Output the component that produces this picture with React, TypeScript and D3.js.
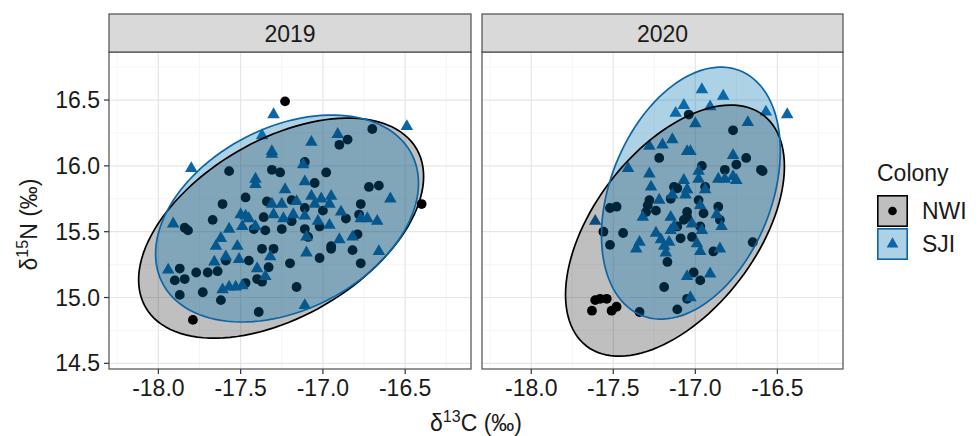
import React, { useEffect } from "react";
import * as d3 from "d3";

// ---------- data (δ13C, δ15N) ----------
const years = ["2019", "2020"];
const colonies = ["NWI", "SJI"];

const nwi2019: [number, number][] = [
  [-17.23, 16.49], [-17.57, 15.96], [-17.31, 15.97], [-17.26, 15.95], [-17.47, 15.76], [-17.61, 15.71],
  [-17.34, 15.73], [-17.19, 15.74], [-17.67, 15.59], [-17.84, 15.53], [-17.82, 15.51], [-17.36, 15.61],
  [-17.42, 15.52], [-17.35, 15.51], [-17.25, 15.52], [-17.37, 15.37], [-17.3, 15.37], [-17.45, 15.28],
  [-17.2, 15.26], [-17.33, 15.23], [-17.87, 15.22], [-17.9, 15.13], [-17.84, 15.14], [-17.77, 15.19],
  [-17.7, 15.19], [-17.64, 15.2], [-17.59, 15.28], [-17.4, 15.14], [-17.37, 15.12], [-17.47, 15.11],
  [-17.87, 15.02], [-17.73, 15.04], [-17.62, 14.98], [-17.39, 14.89], [-17.79, 14.83], [-17.16, 15.08],
  [-16.7, 16.28], [-16.9, 16.16], [-16.85, 16.2], [-17.11, 16.03], [-16.98, 15.95], [-17.05, 15.87],
  [-16.72, 15.84], [-16.66, 15.85], [-16.77, 15.71], [-16.4, 15.71], [-17.11, 15.68], [-17.0, 15.66],
  [-16.86, 15.6], [-16.78, 15.63], [-17.02, 15.54], [-17.19, 15.58], [-17.11, 15.52], [-17.09, 15.46],
  [-16.79, 15.48], [-16.95, 15.39], [-16.95, 15.37], [-16.82, 15.36], [-17.02, 15.3], [-16.77, 15.26],
];

const sji2019: [number, number][] = [
  [-17.3, 16.39], [-17.37, 16.23], [-17.8, 15.98], [-17.31, 16.09], [-17.31, 16.11], [-17.41, 15.9],
  [-17.41, 15.86], [-17.23, 15.82], [-17.31, 15.71], [-17.25, 15.71], [-17.47, 15.62], [-17.45, 15.6],
  [-17.5, 15.63], [-17.3, 15.63], [-17.24, 15.6], [-17.18, 15.63], [-17.41, 15.54], [-17.49, 15.54],
  [-17.91, 15.56], [-17.57, 15.52], [-17.62, 15.45], [-17.65, 15.39], [-17.52, 15.39], [-17.59, 15.31],
  [-17.51, 15.29], [-17.66, 15.27], [-17.32, 15.31], [-17.4, 15.22], [-17.35, 15.16], [-17.94, 15.21],
  [-17.57, 15.08], [-17.53, 15.08], [-17.49, 15.09], [-17.61, 15.06], [-16.49, 16.3], [-16.91, 16.24],
  [-17.07, 16.18], [-17.12, 16.01], [-17.11, 15.88], [-16.59, 15.75], [-17.07, 15.77], [-17.01, 15.75],
  [-16.95, 15.77], [-17.16, 15.73], [-17.05, 15.71], [-16.96, 15.71], [-16.89, 15.65], [-16.77, 15.6],
  [-16.73, 15.6], [-16.67, 15.58], [-17.11, 15.62], [-17.03, 15.58], [-16.96, 15.55], [-17.1, 15.46],
  [-16.9, 15.44], [-16.82, 15.46], [-17.1, 15.34], [-16.66, 15.35], [-17.11, 14.94],
];

const nwi2020: [number, number][] = [
  [-17.04, 16.39], [-17.22, 16.06], [-17.13, 15.84], [-17.11, 15.83], [-17.15, 15.75], [-17.28, 15.74],
  [-17.29, 15.7], [-17.3, 15.65], [-17.24, 15.66], [-17.52, 15.68], [-17.48, 15.69], [-17.56, 15.5],
  [-17.44, 15.49], [-17.52, 15.4], [-17.09, 15.45], [-17.11, 15.54], [-17.05, 15.61], [-17.05, 15.65],
  [-17.17, 15.27], [-17.19, 15.08], [-17.11, 14.91], [-17.34, 14.89], [-17.63, 14.9], [-17.61, 14.98],
  [-17.58, 14.99], [-17.54, 14.99], [-17.51, 14.9], [-17.48, 14.93], [-16.77, 16.27], [-16.69, 16.06],
  [-16.75, 16.01], [-16.82, 15.97], [-16.6, 15.97], [-16.59, 15.96], [-16.96, 16.0], [-16.94, 15.84],
  [-16.98, 15.74], [-16.95, 15.64], [-16.86, 15.69], [-17.07, 15.59], [-16.85, 15.59], [-16.97, 15.54],
  [-17.02, 15.46], [-16.65, 15.42], [-16.89, 15.35], [-17.01, 15.19], [-16.97, 15.13], [-17.05, 14.99],
];

const sji2020: [number, number][] = [
  [-17.07, 16.46], [-17.12, 16.4], [-17.14, 16.2], [-17.2, 16.16], [-17.28, 16.15], [-17.05, 16.11],
  [-17.41, 15.98], [-17.28, 15.94], [-17.07, 15.89], [-17.05, 15.82], [-17.27, 15.84], [-17.14, 15.78],
  [-17.22, 15.74], [-17.61, 15.58], [-17.32, 15.61], [-17.15, 15.61], [-17.13, 15.54], [-17.15, 15.51],
  [-17.24, 15.49], [-17.21, 15.44], [-17.16, 15.42], [-17.34, 15.42], [-17.36, 15.37], [-17.18, 15.34],
  [-17.19, 15.39], [-17.05, 15.16], [-16.96, 16.58], [-16.83, 16.53], [-16.91, 16.45], [-16.57, 16.41],
  [-16.44, 16.39], [-17.0, 16.32], [-16.68, 16.33], [-17.03, 16.11], [-16.77, 16.08], [-16.98, 15.96],
  [-16.98, 15.9], [-16.86, 15.9], [-16.82, 15.9], [-16.77, 15.92], [-16.75, 15.89], [-17.06, 15.78],
  [-16.94, 15.82], [-16.97, 15.7], [-16.87, 15.63], [-16.84, 15.54], [-17.02, 15.56], [-16.96, 15.51],
  [-16.99, 15.41], [-16.97, 15.35], [-16.85, 15.37], [-16.91, 15.18], [-17.03, 15.0],
];

// ellipse: [centre x, centre y, half-range x, half-range y, phase (deg)]
const nwiEllipse2019 = [-17.254, 15.527, 0.866, 0.836, 62];
const sjiEllipse2019 = [-17.218, 15.6, 0.799, 0.786, 70];
const nwiEllipse2020 = [-17.124, 15.508, 0.667, 0.954, 59.3];
const sjiEllipse2020 = [-17.027, 15.793, 0.545, 0.957, 70.4];

const xMajor = [-18, -17.5, -17, -16.5];
const xMinor = [-18.25, -17.75, -17.25, -16.75, -16.25];
const yMajor = [14.5, 15, 15.5, 16, 16.5];
const yMinor = [14.75, 15.25, 15.75, 16.25, 16.75];

// ---------- layout ----------
const W = 979;
const H = 436;
const TOP = 52;
const BOTTOM = 369;
const STRIP_TOP = 14;
const xDomain = [-18.3, -16.1];
const yDomain = [14.457, 16.865];
const panelX = [
  [109, 471],
  [482, 843],
];
const FONT = "'Liberation Sans', Arial, Helvetica, sans-serif";
const FS = 23;
const TXT = "#1a1a1a";
const BLUE = "#0e65a6";

function ellipsePts(e: number[]): [number, number][] {
  const [cx, cy, rx, ry, ph] = e;
  const p = (ph * Math.PI) / 180;
  return d3.range(0, 121).map((i) => {
    const t = (i / 120) * 2 * Math.PI;
    return [cx + rx * Math.cos(t), cy + ry * Math.cos(t - p)] as [number, number];
  });
}

function fmt(v: number) {
  return v.toFixed(1);
}

export default function App() {
  useEffect(() => {
    document.body.style.margin = "0";
  }, []);

  const y = d3.scaleLinear().domain(yDomain).range([BOTTOM, TOP]);
  const tri = d3.symbol(d3.symbolTriangle, 68)()!;
  const triKey = d3.symbol(d3.symbolTriangle, 60)()!;

  const panels = [
    { year: years[0], nwi: nwi2019, sji: sji2019, en: nwiEllipse2019, es: sjiEllipse2019 },
    { year: years[1], nwi: nwi2020, sji: sji2020, en: nwiEllipse2020, es: sjiEllipse2020 },
  ];

  return (
    <svg width={W} height={H} style={{ position: "absolute", left: 0, top: 0, background: "#fff" }} fontFamily={FONT}>
      {panels.map((p, pi) => {
        const [x0, x1] = panelX[pi];
        const x = d3.scaleLinear().domain(xDomain).range([x0, x1]);
        const line = d3
          .line<[number, number]>()
          .x((d) => x(d[0]))
          .y((d) => y(d[1]))
          .curve(d3.curveLinearClosed);
        const eN = line(ellipsePts(p.en))!;
        const eS = line(ellipsePts(p.es))!;
        return (
          <g key={p.year}>
            <clipPath id={`clip${pi}`}>
              <rect x={x0} y={TOP} width={x1 - x0} height={BOTTOM - TOP} />
            </clipPath>
            <rect x={x0} y={TOP} width={x1 - x0} height={BOTTOM - TOP} fill="#fff" />
            {xMinor.map((v) => (
              <line key={"xm" + v} x1={x(v)} x2={x(v)} y1={TOP} y2={BOTTOM} stroke="#f2f2f2" strokeWidth={0.8} />
            ))}
            {yMinor.map((v) => (
              <line key={"ym" + v} x1={x0} x2={x1} y1={y(v)} y2={y(v)} stroke="#f2f2f2" strokeWidth={0.8} />
            ))}
            {xMajor.map((v) => (
              <line key={"xM" + v} x1={x(v)} x2={x(v)} y1={TOP} y2={BOTTOM} stroke="#e6e6e6" strokeWidth={1.2} />
            ))}
            {yMajor.map((v) => (
              <line key={"yM" + v} x1={x0} x2={x1} y1={y(v)} y2={y(v)} stroke="#e6e6e6" strokeWidth={1.2} />
            ))}
            <g clipPath={`url(#clip${pi})`}>
              {p.nwi.map((d, i) => (
                <circle key={"n" + i} cx={x(d[0])} cy={y(d[1])} r={4.9} fill="#000" />
              ))}
              {p.sji.map((d, i) => (
                <path key={"s" + i} d={tri} transform={`translate(${x(d[0])},${y(d[1])})`} fill={BLUE} />
              ))}
              <path d={eN} fill="#000" fillOpacity={0.25} stroke="none" />
              <path d={eS} fill="#0072B2" fillOpacity={0.32} stroke="none" />
              <path d={eN} fill="none" stroke="#000" strokeWidth={1.7} />
              <path d={eS} fill="none" stroke={BLUE} strokeWidth={1.7} />
            </g>
            <rect x={x0} y={TOP} width={x1 - x0} height={BOTTOM - TOP} fill="none" stroke="#4d4d4d" strokeWidth={1.2} />
            <rect x={x0} y={STRIP_TOP} width={x1 - x0} height={TOP - STRIP_TOP} fill="#d9d9d9" stroke="#4d4d4d" strokeWidth={1.2} />
            <text x={(x0 + x1) / 2} y={41.5} textAnchor="middle" fontSize={FS} fill={TXT}>
              {p.year}
            </text>
            {xMajor.map((v) => (
              <g key={"xt" + v}>
                <line x1={x(v)} x2={x(v)} y1={BOTTOM} y2={BOTTOM + 5} stroke="#333" strokeWidth={1.2} />
                <text x={x(v)} y={396} textAnchor="middle" fontSize={FS} fill={TXT}>
                  {fmt(v)}
                </text>
              </g>
            ))}
          </g>
        );
      })}
      {yMajor.map((v) => (
        <g key={"yt" + v}>
          <line x1={104} x2={109} y1={y(v)} y2={y(v)} stroke="#333" strokeWidth={1.2} />
          <text x={100} y={y(v) + 8} textAnchor="end" fontSize={FS} fill={TXT}>
            {fmt(v)}
          </text>
        </g>
      ))}
      <text x={476} y={431} textAnchor="middle" fontSize={FS} fill={TXT}>
        δ<tspan dy={-9} fontSize={16}>13</tspan>
        <tspan dy={9}>C (‰)</tspan>
      </text>
      <text transform={`translate(37,${(TOP + BOTTOM) / 2 + 14}) rotate(-90)`} textAnchor="middle" fontSize={FS} fill={TXT}>
        δ<tspan dy={-9} fontSize={16}>15</tspan>
        <tspan dy={9}>N (‰)</tspan>
      </text>
      {/* legend */}
      <text x={877} y={181} fontSize={FS} fill={TXT}>
        Colony
      </text>
      {colonies.map((c, i) => {
        const ky = 195 + i * 33;
        return (
          <g key={c}>
            <rect x={877} y={ky} width={31} height={32} fill="#fff" />
            <rect
              x={877.8}
              y={ky + 0.8}
              width={29.4}
              height={30.4}
              fill={i === 0 ? "#000" : "#0072B2"}
              fillOpacity={i === 0 ? 0.25 : 0.32}
              stroke={i === 0 ? "#000" : BLUE}
              strokeWidth={1.6}
            />
            {i === 0 ? (
              <circle cx={892.5} cy={ky + 16} r={4.3} fill="#000" />
            ) : (
              <path d={triKey} transform={`translate(892.5,${ky + 16})`} fill={BLUE} />
            )}
            <text x={922} y={ky + 24} fontSize={FS} fill={TXT}>
              {c}
            </text>
          </g>
        );
      })}
    </svg>
  );
}
